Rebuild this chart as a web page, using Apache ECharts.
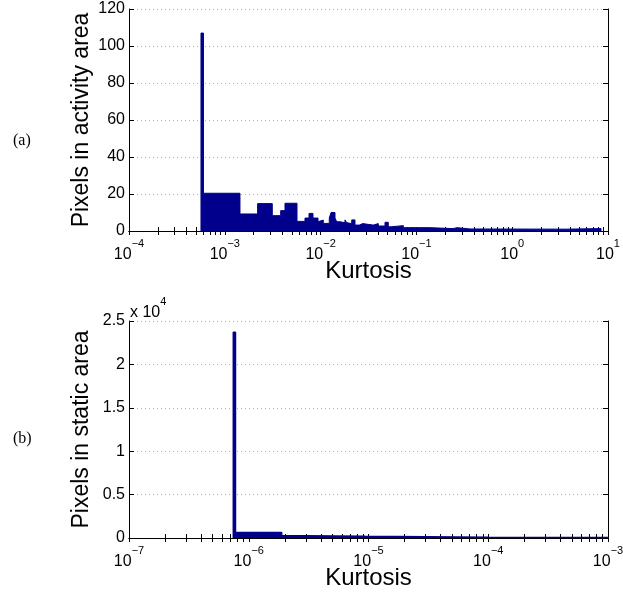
<!DOCTYPE html>
<html><head><meta charset="utf-8">
<script src="https://cdn.jsdelivr.net/npm/echarts@6/dist/echarts.min.js"></script>
<style>html,body{margin:0;padding:0;background:#fff}#c{width:623px;height:593px}</style>
</head><body><div id="c"></div>
<script>
// Panel (a): pixels in activity area vs kurtosis (bin edges + counts)
const topEdges = [5.64e-4, 5.99e-4, 1.44e-3, 2.20e-3, 3.13e-3, 3.83e-3, 4.25e-3, 5.67e-3, 6.87e-3, 7.57e-3, 8.33e-3, 9.40e-3, 9.86e-3, 0.01067, 0.01232, 0.01284, 0.01414, 0.01473, 0.01594, 0.01798, 0.01873, 0.01946, 0.02112, 0.02286, 0.02535, 0.02751, 0.03549, 0.04002, 0.04701, 0.05088, 0.05524, 0.07302, 0.1387, 0.241, 0.2653, 0.3626, 3.644, 8.452];
const topCounts = [107, 20.4, 9.2, 14.8, 8.3, 11, 15, 5.2, 7, 9.5, 7, 5, 5.9, 4.1, 7, 10, 7, 5, 4.5, 6, 4.5, 4, 6, 3.2, 4, 3.2, 4, 2.7, 4.7, 2.3, 2.9, 1.8, 1.3, 1.8, 1.1, 1, 1.3];
// Panel (b): pixels in static area vs kurtosis
const botEdges = [7.43e-7, 7.75e-7, 1.884e-6, 2.949e-6, 9.35e-6, 1e-4, 1e-3];
const botCounts = [23700, 620, 265, 190, 90, 60];

const topXRange = [1e-4, 10];
const botXRange = [1e-7, 1e-3];
const topYTicks = [0, 20, 40, 60, 80, 100, 120];
const botYTicks = [0, 5000, 10000, 15000, 20000, 25000];
const topDecades = [-4, -3, -2, -1, 0, 1];
const botDecades = [-7, -6, -5, -4, -3];

function stairs(edges, counts) {
  const pts = [[edges[0], 0]];
  for (let i = 0; i < counts.length; i++) {
    pts.push([edges[i], counts[i]]);
    pts.push([edges[i + 1], counts[i]]);
  }
  pts.push([edges[edges.length - 1], 0]);
  return pts;
}
function logTicks(decs) {
  const t = [];
  for (let i = 0; i < decs.length; i++) {
    const b = Math.pow(10, decs[i]);
    if (i === decs.length - 1) { t.push(b); break; }
    for (let k = 1; k <= 9; k++) t.push(+(k * b).toPrecision(3));
  }
  return t;
}
const majors = d => d.map(e => Math.pow(10, e));
const expStr = e => (e < 0 ? '\u2212' + (-e) : String(e));

const FONT = 'Liberation Sans';
const BLUE = '#00008c';
const labelRich = {
  b: { fontSize: 16, fontFamily: FONT, color: '#000' },
  s: { fontSize: 11, fontFamily: FONT, color: '#000', padding: [0, 0, 22, 0] }
};
function xAxes(gi, range, decs) {
  return [
    { type: 'log', logBase: 10, gridIndex: gi, min: range[0], max: range[1], position: 'bottom',
      axisLine: { show: true, lineStyle: { color: '#000', width: 1 } },
      axisTick: { show: true, inside: true, length: 4, customValues: logTicks(decs), lineStyle: { color: '#000' } },
      axisLabel: { show: true, customValues: majors(decs), margin: 7, fontFamily: FONT,
        formatter: v => '{b|10}{s|' + expStr(Math.round(Math.log10(v))) + '}', rich: labelRich },
      splitLine: { show: false }, minorTick: { show: false },
      name: 'Kurtosis', nameLocation: 'middle', nameGap: 28, nameMoveOverlap: false,
      nameTextStyle: { fontSize: 24, fontFamily: FONT, color: '#000' } },
    { type: 'log', logBase: 10, gridIndex: gi, min: range[0], max: range[1], position: 'top',
      axisLine: { show: true, lineStyle: { color: '#000', width: 1 } },
      axisTick: { show: true, inside: true, length: 4, customValues: logTicks(decs), lineStyle: { color: '#000' } },
      axisLabel: { show: false }, splitLine: { show: false } }
  ];
}
function yAxes(gi, ticks, name, fmt) {
  return [
    { type: 'value', gridIndex: gi, min: ticks[0], max: ticks[ticks.length - 1], interval: ticks[1] - ticks[0], position: 'left',
      axisLine: { show: true, lineStyle: { color: '#000', width: 1 } },
      axisTick: { show: true, inside: true, length: 5, lineStyle: { color: '#000' } },
      axisLabel: { fontSize: 16, fontFamily: FONT, color: '#000', margin: 4, formatter: fmt },
      splitLine: { show: true, lineStyle: { color: '#b0b0b0', type: [1, 3], width: 1 } },
      name: name, nameLocation: 'middle', nameGap: 36, nameRotate: 90, nameMoveOverlap: false,
      nameTextStyle: { fontSize: 23, fontFamily: FONT, color: '#000' } },
    { type: 'value', gridIndex: gi, min: ticks[0], max: ticks[ticks.length - 1], interval: ticks[1] - ticks[0], position: 'right',
      axisLine: { show: true, lineStyle: { color: '#000', width: 1 } },
      axisTick: { show: true, inside: true, length: 5, lineStyle: { color: '#000' } },
      axisLabel: { show: false }, splitLine: { show: false } }
  ];
}

const chart = echarts.init(document.getElementById('c'), null, { renderer: 'canvas' });
chart.setOption({
  animation: false,
  backgroundColor: '#fff',
  grid: [
    { left: 129, top: 9, width: 479, height: 222, outerBoundsMode: 'none' },
    { left: 129, top: 321, width: 479, height: 217, outerBoundsMode: 'none' }
  ],
  xAxis: [...xAxes(0, topXRange, topDecades), ...xAxes(1, botXRange, botDecades)],
  yAxis: [...yAxes(0, topYTicks, 'Pixels in activity area', v => String(v)),
          ...yAxes(1, botYTicks, 'Pixels in static area', v => String(v / 10000))],
  series: [
    { type: 'line', xAxisIndex: 0, yAxisIndex: 0, data: stairs(topEdges, topCounts), symbol: 'none',
      lineStyle: { color: BLUE, width: 1 }, areaStyle: { color: BLUE, opacity: 1 }, z: 1 },
    { type: 'line', xAxisIndex: 2, yAxisIndex: 2, data: stairs(botEdges, botCounts), symbol: 'none',
      lineStyle: { color: BLUE, width: 1.5 }, areaStyle: { color: BLUE, opacity: 1 }, z: 1 }
  ],
  graphic: [
    { type: 'text', left: 13, top: 133, style: { text: '(a)', fontSize: 16, fontFamily: 'Liberation Serif', fill: '#000' } },
    { type: 'text', left: 13, top: 431, style: { text: '(b)', fontSize: 16, fontFamily: 'Liberation Serif', fill: '#000' } },
    { type: 'text', left: 130, top: 296, style: { text: 'x 10{s|4}', fontSize: 16, fontFamily: FONT, fill: '#000',
        rich: { s: { fontSize: 11, fontFamily: FONT, padding: [0, 0, 22, 0] } } } }
  ]
});
</script></body></html>
